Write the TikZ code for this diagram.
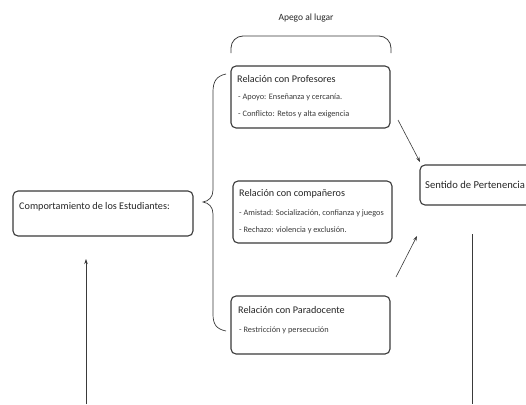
\documentclass[tikz,border=0pt]{standalone}
\usepackage{fontspec}
\setmainfont{Carlito}
\usetikzlibrary{arrows.meta}
\definecolor{boxline}{HTML}{3A3A3A}
\definecolor{txt}{HTML}{262626}
\definecolor{subtxt}{HTML}{3A3A3A}
\tikzset{
  relbox/.style={draw=boxline, line width=1.1pt, rounded corners=5pt, fill=white, inner sep=0pt},
  ttl/.style={anchor=base west, inner sep=0pt, text=txt, font=\fontsize{10.2}{12}\selectfont},
  sub/.style={anchor=base west, inner sep=0pt, text=subtxt, font=\fontsize{8.3}{10}\selectfont},
  conn/.style={draw=boxline, line width=0.6pt, -{Stealth[length=5pt,width=3.5pt]}},
  plain/.style={draw=boxline, line width=0.6pt},
}
\begin{document}
\begin{tikzpicture}[x=1pt,y=-1pt]
\useasboundingbox (0,0) rectangle (526,404);
\clip (0,0) rectangle (526,404);
% boxes
\node[relbox, minimum width=159pt, minimum height=62pt] (prof) at (310.5,97) {};
\node[relbox, minimum width=159pt, minimum height=62pt] (comp) at (312.5,212) {};
\node[relbox, minimum width=159pt, minimum height=58pt] (para) at (310.5,325) {};
\node[relbox, minimum width=180pt, minimum height=45pt] (est) at (103,213.5) {};
\node[relbox, minimum width=150pt, minimum height=40pt] (sent) at (495,185) {};
% texts
\node[ttl] (profT) at (237,82) {Relación con Profesores};
\node[sub] (profA) at (238,99) {- Apoyo: Enseñanza y cercanía.};
\node[sub] (profB) at (238,116) {- Conflicto: Retos y alta exigencia};
\node[ttl] (compT) at (239,196) {Relación con compañeros};
\node[sub] (compA) at (239,215) {- Amistad: Socialización, confianza y juegos};
\node[sub] (compB) at (239,232) {- Rechazo: violencia y exclusión.};
\node[ttl] (paraT) at (238,313) {Relación con Paradocente};
\node[sub] (paraA) at (239,332) {- Restricción y persecución};
\node[ttl] (estT) at (19,209) {Comportamiento de los Estudiantes:};
\node[ttl, font=\fontsize{10.6}{13}\selectfont] (sentT) at (425,188) {Sentido de Pertenencia};
\node[anchor=base, inner sep=0pt, text=txt, font=\fontsize{9.5}{11}\selectfont] (apego) at (306,21) {Apego al lugar};
% top bracket
\draw[plain, line width=0.8pt, rounded corners=12pt] (231,53) -- (231,36) -- (391,36) -- (391,53);
% left curly brace
\draw[plain, line width=0.7pt] (226,74) .. controls (216,76) and (213,82) .. (213,92)
  -- (213,190) .. controls (213,197) and (209,201) .. (203,202)
  .. controls (209,203) and (213,207) .. (213,214)
  -- (213,314) .. controls (213,324) and (216,329) .. (226,331);
% arrows
\coordinate (p1) at (398,120);
\coordinate (p2) at (420,162);
\draw[conn] (p1) -- (p2);
\coordinate (q1) at (396,277);
\coordinate (q2) at (417,236);
\draw[conn] (q1) -- (q2);
\coordinate (b1) at (86,404);
\coordinate (b2) at (86,259);
\draw[conn] (b1) -- (b2);
\coordinate (s1) at (472,234);
\coordinate (s2) at (472,404);
\draw[plain] (s1) -- (s2);
\end{tikzpicture}
\end{document}
